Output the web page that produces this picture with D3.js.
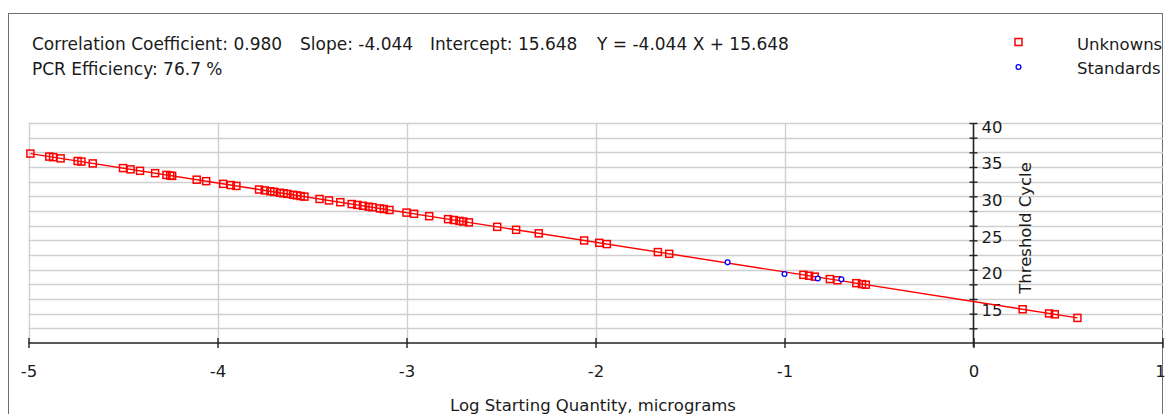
<!DOCTYPE html>
<html>
<head>
<meta charset="utf-8">
<script src="https://cdn.jsdelivr.net/npm/d3@7"></script>
<style>
  html, body { margin: 0; padding: 0; background: #ffffff; }
  svg { display: block; }
  text { font-family: "DejaVu Sans", Verdana, sans-serif; font-size: 16.5px; fill: #1a1a1a; }
</style>
</head>
<body>
<svg id="chart" width="1166" height="414"></svg>
<script>
// Standard curve: Log starting quantity vs. threshold cycle
const unknownLogQty = [
  -4.99, -4.89, -4.87, -4.83, -4.74, -4.72, -4.66, -4.50, -4.46, -4.41,
  -4.33, -4.27, -4.25, -4.24, -4.11, -4.06, -3.97, -3.93, -3.90, -3.78,
  -3.75, -3.72, -3.70, -3.67, -3.65, -3.63, -3.60, -3.58, -3.56, -3.54,
  -3.46, -3.41, -3.35, -3.29, -3.26, -3.23, -3.20, -3.18, -3.14, -3.12,
  -3.09, -3.00, -2.96, -2.88, -2.78, -2.75, -2.72, -2.70, -2.67, -2.52,
  -2.42, -2.30, -2.06, -1.98, -1.94, -1.67, -1.61, -0.90, -0.87, -0.84,
  -0.76, -0.72, -0.62, -0.59, -0.57, 0.26, 0.40, 0.43, 0.55
];
const unknownCt = [
  35.83, 35.42, 35.34, 35.18, 34.82, 34.74, 34.49, 33.85, 33.68, 33.48,
  33.16, 32.92, 32.83, 32.79, 32.27, 32.07, 31.70, 31.54, 31.42, 30.93,
  30.81, 30.69, 30.61, 30.49, 30.41, 30.33, 30.21, 30.13, 30.04, 29.96,
  29.64, 29.44, 29.20, 28.95, 28.83, 28.71, 28.59, 28.51, 28.35, 28.27,
  28.14, 27.78, 27.62, 27.29, 26.89, 26.77, 26.65, 26.57, 26.45, 25.84,
  25.43, 24.95, 23.98, 23.66, 23.49, 22.40, 22.16, 19.29, 19.17, 19.05,
  18.72, 18.56, 18.16, 18.03, 17.95, 14.60, 14.03, 13.91, 13.42
];
const standardLogQty = [-1.301, -1.000, -0.824, -0.699];
const standardCt = [21.0, 19.4, 18.8, 18.7];

const correlation = 0.980;
const slope = -4.044;
const intercept = 15.648;
const efficiency = 76.7;

const xTickValues = [-5, -4, -3, -2, -1, 0, 1];
const xGridValues = [-5, -4, -3, -2, -1];
const yTickValues = [12, 14, 16, 18, 20, 22, 24, 26, 28, 30, 32, 34, 36, 38, 40];
const yLabelValues = [15, 20, 25, 30, 35, 40];
const seriesNames = ["Unknowns", "Standards"];

// Plain hyphen for negative numbers, as the instrument software prints them
const fixed = (v, n) => v.toFixed(n);

const svg = d3.select("#chart");

// Outer frame (bottom edge runs past the visible area)
svg.append("rect")
  .attr("x", 8.5).attr("y", 13.5)
  .attr("width", 1154).attr("height", 420)
  .attr("fill", "#ffffff").attr("stroke", "#707070").attr("stroke-width", 1);

const defs = svg.append("defs");
defs.append("clipPath").attr("id", "frameClip")
  .append("rect").attr("x", 9).attr("y", 14).attr("width", 1154).attr("height", 420);

const x = d3.scaleLinear().domain([-5, 1]).range([28.5, 1162.5]);
const y = d3.scaleLinear().domain([10, 40]).range([343, 123]);

const plot = svg.append("g").attr("clip-path", "url(#frameClip)");

// Grid
plot.append("g").selectAll("line").data(yTickValues).join("line")
  .attr("x1", x(-5)).attr("x2", 1163)
  .attr("y1", d => Math.round(y(d)) + 0.5).attr("y2", d => Math.round(y(d)) + 0.5)
  .attr("stroke", "#cfcfcf").attr("stroke-width", 1.4);
plot.append("g").selectAll("line").data(xGridValues).join("line")
  .attr("x1", d => Math.round(x(d)) + 0.5).attr("x2", d => Math.round(x(d)) + 0.5)
  .attr("y1", y(40)).attr("y2", y(10))
  .attr("stroke", "#cfcfcf").attr("stroke-width", 1.4);

// X axis along Ct = 10
const xAxis = svg.append("g")
  .attr("transform", `translate(0,${y(10)})`)
  .call(d3.axisBottom(x).tickValues(xTickValues).tickSize(5).tickSizeOuter(0).tickFormat(d => fixed(d, 0)));
xAxis.select(".domain").attr("stroke", "#222").attr("stroke-width", 1.6).attr("d", `M${x(-5)},0H1163`);
xAxis.selectAll(".tick line").attr("y1", -5).attr("y2", 5).attr("stroke", "#222").attr("stroke-width", 1.4);
xAxis.selectAll(".tick text").attr("y", 22).attr("dy", "0.71em").style("font-size", "16.5px")
  .attr("fill", "#1a1a1a").attr("font-family", null)
  .attr("x", d => d === 1 ? -2.5 : 0);

// Y axis at log quantity = 0
const yAxisX = x(0);
const yAxis = plot.append("g")
  .attr("transform", `translate(${yAxisX},0)`)
  .call(d3.axisRight(y).tickValues(yTickValues).tickSize(4).tickSizeOuter(0).tickFormat(""));
yAxis.select(".domain").attr("stroke", "#222").attr("stroke-width", 1.6)
  .attr("d", `M0,${y(40)}V${y(10) + 4}`);
yAxis.selectAll(".tick line").attr("x1", -4).attr("x2", 4).attr("stroke", "#222").attr("stroke-width", 1.4);

const yLabels = plot.append("g")
  .attr("transform", `translate(${yAxisX},0)`)
  .call(d3.axisRight(y).tickValues(yLabelValues).tickSize(0).tickFormat(d => fixed(d, 0)));
yLabels.select(".domain").remove();
yLabels.selectAll(".tick text").attr("x", 8).attr("dy", "0.55em").style("font-size", "16.5px")
  .attr("fill", "#1a1a1a").attr("font-family", null);

// Axis titles
svg.append("text")
  .attr("transform", "translate(1031,228) rotate(-90)")
  .attr("text-anchor", "middle")
  .text("Threshold Cycle");
svg.append("text")
  .attr("x", 593).attr("y", 411)
  .attr("text-anchor", "middle")
  .text("Log Starting Quantity, micrograms");

// Regression line
const xExtent = d3.extent(unknownLogQty);
plot.append("line")
  .attr("x1", x(xExtent[0])).attr("y1", y(slope * xExtent[0] + intercept))
  .attr("x2", x(xExtent[1])).attr("y2", y(slope * xExtent[1] + intercept))
  .attr("stroke", "#ff0000").attr("stroke-width", 1.4);

// Unknown samples
const unknowns = unknownLogQty.map((v, i) => ({ q: v, ct: unknownCt[i] }));
plot.append("g").selectAll("rect").data(unknowns).join("rect")
  .attr("x", d => x(d.q) - 3.5).attr("y", d => y(d.ct) - 3.5)
  .attr("width", 7).attr("height", 7)
  .attr("fill", "none").attr("stroke", "#ff0000").attr("stroke-width", 1.5);

// Standards
const standards = standardLogQty.map((v, i) => ({ q: v, ct: standardCt[i] }));
plot.append("g").selectAll("circle").data(standards).join("circle")
  .attr("cx", d => x(d.q)).attr("cy", d => y(d.ct)).attr("r", 2.4)
  .attr("fill", "#ffffff").attr("stroke", "#0000ff").attr("stroke-width", 1.3);

// Header statistics
const header = svg.append("g").style("font-size", "17px");
header.append("text").attr("x", 32).attr("y", 50).style("font-size", "17px")
  .text(`Correlation Coefficient: ${fixed(correlation, 3)}`);
header.append("text").attr("x", 300).attr("y", 50).style("font-size", "17px")
  .text(`Slope: ${fixed(slope, 3)}`);
header.append("text").attr("x", 430).attr("y", 50).style("font-size", "17px")
  .text(`Intercept: ${fixed(intercept, 3)}`);
header.append("text").attr("x", 597).attr("y", 50).style("font-size", "17px")
  .text(`Y = ${fixed(slope, 3)} X + ${fixed(intercept, 3)}`);
header.append("text").attr("x", 32).attr("y", 75).style("font-size", "17px")
  .text(`PCR Efficiency: ${fixed(efficiency, 1)} %`);

// Legend
const legend = svg.append("g").attr("clip-path", "url(#frameClip)");
legend.append("rect").attr("x", 1015).attr("y", 38.5).attr("width", 7).attr("height", 7)
  .attr("fill", "none").attr("stroke", "#ff0000").attr("stroke-width", 1.5);
legend.append("circle").attr("cx", 1018.5).attr("cy", 67).attr("r", 2.4)
  .attr("fill", "#ffffff").attr("stroke", "#0000ff").attr("stroke-width", 1.3);
legend.selectAll("text").data(seriesNames).join("text")
  .attr("x", 1077).attr("y", (d, i) => 50 + i * 24)
  .text(d => d);
</script>
</body>
</html>
